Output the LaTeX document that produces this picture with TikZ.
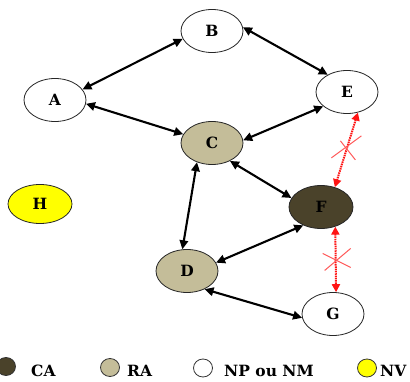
\documentclass[tikz,border=0pt]{standalone}
\usepackage{fontspec}
\setmainfont{DejaVu Serif}
\usetikzlibrary{arrows.meta,shapes.geometric}
\definecolor{caFill}{RGB}{74,66,42}
\definecolor{raFill}{RGB}{196,189,153}
\definecolor{nvFill}{RGB}{255,255,0}
\definecolor{lineRed}{RGB}{255,20,20}
\definecolor{crossRed}{RGB}{255,90,90}
\tikzset{
  state/.style={ellipse, draw=black!85, line width=0.8pt, fill=white,
    minimum width=62pt, minimum height=43pt, inner sep=0pt,
    font=\fontsize{15.5}{18}\selectfont\bfseries},
  ca/.style={fill=caFill},
  ra/.style={fill=raFill},
  nv/.style={fill=nvFill},
  link/.style={line width=2.1pt, black,
    {Triangle[length=9pt,width=8.5pt]}-{Triangle[length=9pt,width=8.5pt]}},
  blocked/.style={line width=2pt, lineRed, dash pattern=on 1.5pt off 0.8pt,
    {Triangle[length=8pt,width=8pt]}-{Triangle[length=8pt,width=8pt]}},
  crossmark/.style={crossRed, line width=1pt},
  keydot/.style={ellipse, draw=black!80, line width=0.8pt,
    minimum width=19pt, minimum height=18pt, inner sep=0pt},
  keytext/.style={anchor=base west, inner sep=0pt,
    font=\fontsize{15.5}{18}\selectfont\bfseries}
}
\begin{document}
\begin{tikzpicture}[x=1pt,y=-1pt]
\useasboundingbox (0,0) rectangle (410,382);

% nodes of the network
\node[state]    (B) at (212,31)  {B};
\node[state]    (A) at (55,100)  {A};
\node[state]    (E) at (347,92)  {E};
\node[state,ra] (C) at (212,143) {C};
\node[state,nv, minimum width=64pt, minimum height=39pt] (H) at (40,204) {H};
\node[state,ca, minimum width=64pt] (F) at (321,207) {F};
\node[state,ra] (D) at (187,271) {D};
\node[state]    (G) at (333,314) {G};

% working links
\draw[link] (A.21)  -- (B.195);
\draw[link] (B.7)   -- (E.138);
\draw[link] (A.-7)  -- (C.163);
\draw[link] (E.211) -- (C.5);
\draw[link] (C.315) -- (F.163);
\draw[link] (C.232) -- (D.102);
\draw[link] (F.226) -- (D.16);
\draw[link] (D.314) -- (G.187);

% broken links, crossed out
\draw[blocked] (E.298) -- coordinate[pos=0.5] (xEF) (F.55);
\draw[blocked] (F.306) -- coordinate[pos=0.5] (xFG) (G.82);
\draw[crossmark] ([shift={(-15,8)}]xEF) -- ([shift={(15,-14)}]xEF);
\draw[crossmark] ([shift={(-6,-9)}]xEF) -- ([shift={(9,10)}]xEF);
\draw[crossmark] ([shift={(-13,-6)}]xFG) -- ([shift={(15,8)}]xFG);
\draw[crossmark] ([shift={(-11,11)}]xFG) -- ([shift={(15,-11)}]xFG);

% legend
\node[keydot,fill=caFill] (kCA) at (6,366.5) {};
\node[keytext] (tCA) at (31,377) {CA};
\node[keydot,fill=raFill] (kRA) at (110,367.5) {};
\node[keytext] (tRA) at (127,377) {RA};
\node[keydot,fill=white] (kNP) at (203,368) {};
\node[keytext] (tNP) at (224,377) {NP ou NM};
\node[keydot,fill=nvFill] (kNV) at (367,368) {};
\node[keytext] (tNV) at (380,377) {NV};
\end{tikzpicture}
\end{document}
